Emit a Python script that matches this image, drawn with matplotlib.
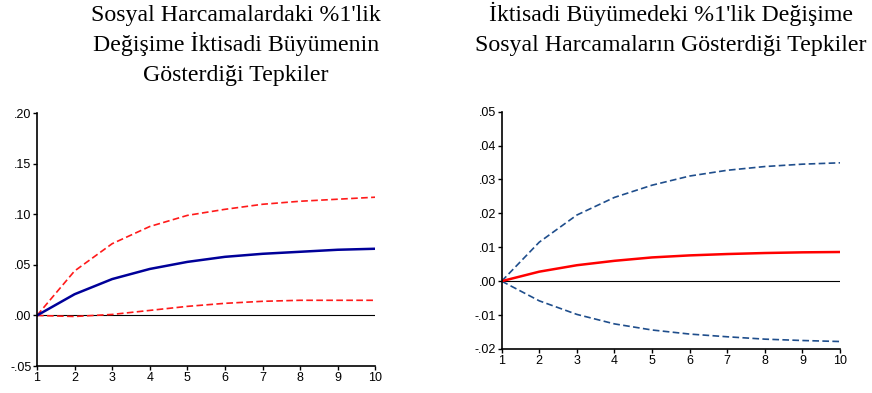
import matplotlib.pyplot as plt
from matplotlib.ticker import FuncFormatter

periods = [1, 2, 3, 4, 5, 6, 7, 8, 9, 10]

# left panel: response of growth to 1% shock in social spending
growth_resp = [0.0, 0.021, 0.036, 0.046, 0.053, 0.058, 0.061, 0.063, 0.065, 0.066]
growth_upper = [0.0, 0.044, 0.071, 0.088, 0.099, 0.105, 0.110, 0.113, 0.115, 0.117]
growth_lower = [0.0, -0.001, 0.001, 0.005, 0.009, 0.012, 0.014, 0.015, 0.015, 0.015]

# right panel: response of social spending to 1% shock in growth
spend_resp = [0.0, 0.0028, 0.0047, 0.0060, 0.0070, 0.0076, 0.0080, 0.0083, 0.0085, 0.0086]
spend_upper = [0.0, 0.0115, 0.0195, 0.0247, 0.0283, 0.0310, 0.0327, 0.0338, 0.0345, 0.0349]
spend_lower = [0.0, -0.0058, -0.0098, -0.0126, -0.0144, -0.0156, -0.0164, -0.0171, -0.0175, -0.0178]

left_title = ["Sosyal Harcamalardaki %1'lik",
              "Değişime İktisadi Büyümenin",
              "Gösterdiği Tepkiler"]
right_title = ["İktisadi Büyümedeki %1'lik Değişime",
               "Sosyal Harcamaların Gösterdiği Tepkiler"]


def dot_fmt(v, pos):
    s = '%.2f' % v
    return s.replace('0.', '.', 1)


def style_axes(ax, ymin, ymax, step):
    ax.set_xlim(1, 10)
    ax.set_ylim(ymin, ymax)
    ax.set_xticks(periods)
    yt = []
    v = ymin
    while v <= ymax + 1e-9:
        yt.append(round(v, 3))
        v += step
    ax.set_yticks(yt)
    ax.yaxis.set_major_formatter(FuncFormatter(dot_fmt))
    ax.spines['top'].set_visible(False)
    ax.spines['right'].set_visible(False)
    ax.spines['left'].set_linewidth(1.2)
    ax.spines['bottom'].set_linewidth(1.2)
    ax.tick_params(labelsize=9, length=3, width=1, pad=1)
    for lab in ax.get_xticklabels() + ax.get_yticklabels():
        lab.set_fontfamily('Liberation Sans')
    ax.axhline(0, color='black', lw=0.8, zorder=1)


fig = plt.figure(figsize=(8.72, 3.93), dpi=100)

ax1 = fig.add_axes([0.0424, 0.0687, 0.388, 0.643])
ax1.plot(periods, growth_upper, color='#ff1a1a', lw=1.2, ls=(0, (4, 2)))
ax1.plot(periods, growth_lower, color='#ff1a1a', lw=1.2, ls=(0, (4, 2)))
ax1.plot(periods, growth_resp, color='#000099', lw=1.8)
style_axes(ax1, -0.05, 0.20, 0.05)

ax2 = fig.add_axes([0.5753, 0.112, 0.388, 0.604])
ax2.plot(periods, spend_upper, color='#1f4e8c', lw=1.2, ls=(0, (4, 2)))
ax2.plot(periods, spend_lower, color='#1f4e8c', lw=1.2, ls=(0, (4, 2)))
ax2.plot(periods, spend_resp, color='#ff0000', lw=1.8)
style_axes(ax2, -0.02, 0.05, 0.01)

# titles, one line at a time (baselines 30 px apart)
for i, line in enumerate(left_title):
    fig.text(236 / 872, 1 - (21 + 30 * i) / 393, line, ha='center', va='baseline',
             fontsize=17.2, family='Liberation Serif')
for i, line in enumerate(right_title):
    fig.text(671 / 872, 1 - (21 + 30 * i) / 393, line, ha='center', va='baseline',
             fontsize=17.2, family='Liberation Serif')

fig.savefig('out.png', dpi=100)
